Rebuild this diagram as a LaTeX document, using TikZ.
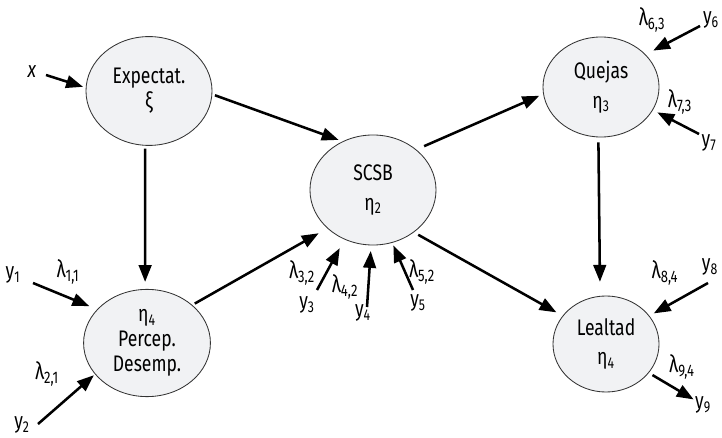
\documentclass[tikz,border=0pt]{standalone}
\usepackage{fontspec}
\setmainfont[FakeStretch=0.78]{Fira Sans}
\usetikzlibrary{shapes.geometric, arrows.meta}
\definecolor{latfill}{HTML}{F1F2F4}
\newcommand{\lam}[1]{λ\textsubscript{#1}}

\begin{document}
\begin{tikzpicture}[x=0.025cm, y=-0.025cm]
% Define the node styles
\tikzstyle{latent} = [ellipse, draw=black!80, line width=0.6pt, fill=latfill, inner sep=0pt, align=center, font=\fontsize{16}{18}\selectfont]
\tikzstyle{indicator} = [inner sep=0pt, font=\fontsize{16}{18}\selectfont]
\tikzstyle{loading} = [inner sep=0pt, font=\fontsize{17}{18}\selectfont]
\tikzstyle{causal} = [line width=1.8pt, -{Triangle[length=12pt,width=9pt]}, shorten >=3pt]

\useasboundingbox (0,0) rectangle (722,438);

% Define the latent variables
\node[latent, minimum width=3.15cm, minimum height=2.72cm] (expt) at (149,91) {Expectat.\\ξ};
\node[latent, minimum width=3.17cm, minimum height=2.68cm] (perc) at (147,343) {η\textsubscript{4}\\Percep.\\Desemp.};
\node[latent, minimum width=3.15cm, minimum height=2.75cm] (scsb) at (373,190) {SCSB\\[3pt]η\textsubscript{2}};
\node[latent, minimum width=2.9cm, minimum height=2.5cm] (quej) at (601,87) {Quejas\\[3pt]η\textsubscript{3}};
\node[latent, minimum width=2.65cm, minimum height=2.4cm] (leal) at (606,344) {Lealtad\\[3pt]η\textsubscript{4}};

% Define the indicators
\node[indicator] (x) at (32,72) {\textit{x}};
\node[indicator] (y1) at (13,275) {y\textsubscript{1}};
\node[indicator] (y2) at (22,425) {y\textsubscript{2}};
\node[indicator] (y3) at (307,305) {y\textsubscript{3}};
\node[indicator] (y4) at (363,313) {y\textsubscript{4}};
\node[indicator] (y5) at (418,303) {y\textsubscript{5}};
\node[indicator] (y6) at (711,20) {y\textsubscript{6}};
\node[indicator] (y7) at (709,143) {y\textsubscript{7}};
\node[indicator] (y8) at (710,267) {y\textsubscript{8}};
\node[indicator] (y9) at (703,405) {y\textsubscript{9}};

% Define the loadings
\node[loading] (l11) at (68,272) {\lam{1,1}};
\node[loading] (l21) at (47,374) {\lam{2,1}};
\node[loading] (l32) at (302,273) {\lam{3,2}};
\node[loading] (l42) at (345,287) {\lam{4,2}};
\node[loading] (l52) at (422,272) {\lam{5,2}};
\node[loading] (l63) at (652,20) {\lam{6,3}};
\node[loading] (l73) at (680,102) {\lam{7,3}};
\node[loading] (l84) at (665,273) {\lam{8,4}};
\node[loading] (l94) at (682,367) {\lam{9,4}};

% Arrow tails next to the indicators
\coordinate (tx) at (46,75);
\coordinate (t1) at (33,283);
\coordinate (t2) at (38,424);
\coordinate (t3) at (317,290);
\coordinate (t4) at (367,307);
\coordinate (t5) at (413,290);
\coordinate (t6) at (700,26);
\coordinate (t7) at (699,134);
\coordinate (t8) at (708,283);

% Structural paths
\draw[causal, shorten <=2pt] (expt.-3.5) -- (scsb.122);
\draw[causal, shorten <=2pt, shorten >=5pt] (expt.-94) -- (perc.92);
\draw[causal, shorten <=2pt, shorten >=7pt] (perc.40) -- (scsb.220);
\draw[causal, shorten <=6pt] (scsb.43) -- (quej.187);
\draw[causal, shorten <=3.5pt, shorten >=5pt] (scsb.-46) -- (leal.147);
\draw[causal, shorten <=3.5pt, shorten >=10pt] (quej.267) -- (leal.97);

% Measurement paths
\draw[causal, shorten >=2pt] (tx) -- (expt.177);
\draw[causal, shorten >=6pt] (t1) -- (perc.146);
\draw[causal, shorten >=1pt] (t2) -- (perc.211);
\draw[causal, shorten >=7pt] (t3) -- (scsb.240);
\draw[causal, shorten >=4pt] (t4) -- (scsb.268);
\draw[causal, shorten >=2pt] (t5) -- (scsb.290);
\draw[causal, shorten >=6pt] (t6) -- (quej.36);
\draw[causal, shorten >=3.5pt] (t7) -- (quej.-24);
\draw[causal, shorten >=3.5pt] (t8) -- (leal.33);
\draw[causal, shorten <=3pt, shorten >=1pt] (leal.-34) -- (y9);

\end{tikzpicture}
\end{document}
